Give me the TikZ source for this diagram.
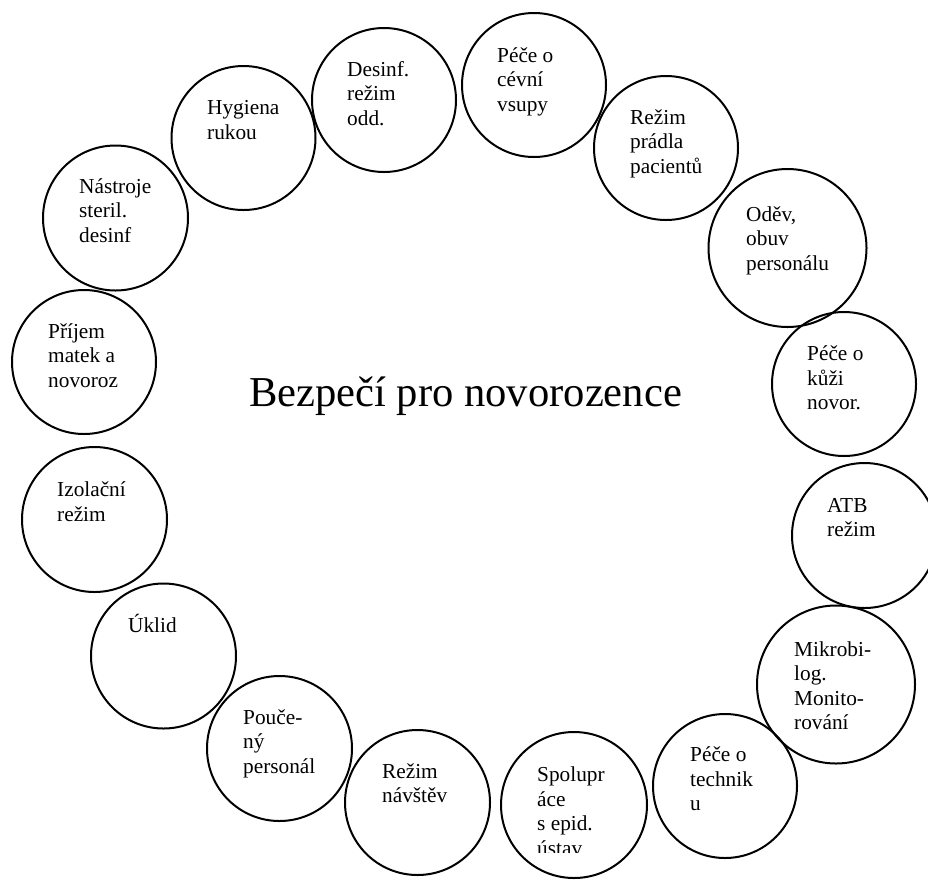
\documentclass[tikz,border=0pt]{standalone}
\usepackage{fontspec}
\setmainfont{Liberation Serif}
\begin{document}
\begin{tikzpicture}[x=1pt,y=-1pt,
  ring/.style={draw=black,line width=2pt,circle,inner sep=0pt,minimum size=#1},
  ring/.default=144pt,
  lbl/.style={anchor=base west,align=left,inner sep=0pt,font=\fontsize{21.3pt}{24.5pt}\selectfont},
  title/.style={anchor=base,inner sep=0pt,font=\fontsize{42.6pt}{48pt}\selectfont}]
\fill[white] (0,0) rectangle (928,879);
\useasboundingbox (0,0) rectangle (928,879);
% circles
\node[ring] (c1) at (384,100) {};
\node[ring] (c2) at (534,85) {};
\node[ring] (c3) at (666,148) {};
\node[ring=158pt] (c4) at (787.5,248) {};
\node[ring] (c5) at (844,384) {};
\node[ring=145pt] (c6) at (864.5,535.5) {};
\node[ring=158pt] (c7) at (836,684.5) {};
\node[ring] (c8) at (725,786) {};
\node[ring=146pt] (c9) at (574,805) {};
\node[ring=145pt] (c10) at (417.5,802.5) {};
\node[ring=145pt] (c11) at (279.5,748.5) {};
\node[ring=145pt] (c12) at (163.5,656) {};
\node[ring=145pt] (c13) at (94.5,519.5) {};
\node[ring] (c14) at (84,362) {};
\node[ring=145pt] (c15) at (115.5,218) {};
\node[ring] (c16) at (243.5,138) {};
% labels (anchored at the baseline of the last line)
\node[lbl] (t1) at (347,125) {Desinf.\\režim\\odd.};
\node[lbl] (t2) at (497,111) {Péče o\\cévní\\vsupy};
\node[lbl] (t3) at (630,173) {Režim\\prádla\\pacientů};
\node[lbl] (t4) at (746,270) {Oděv,\\obuv\\personálu};
\node[lbl] (t5) at (807,409.5) {Péče o\\kůži\\novor.};
\node[lbl] (t6) at (827,536.8) {ATB\\režim};
\node[lbl] (t7) at (794,729.5) {Mikrobi-\\log.\\Monito-\\rování};
\node[lbl] (t8) at (690,810.7) {Péče o\\technik\\u};
\begin{scope}
\clip (500,700) rectangle (660,852);
\node[lbl] (t9) at (537,855.2) {Spolupr\\áce\\s epid.\\ústav};
\end{scope}
\node[lbl] (t10) at (382,802.8) {Režim\\návštěv};
\node[lbl] (t11) at (243,773) {Pouče-\\ný\\personál};
\node[lbl] (t12) at (128,632.7) {Úklid};
\node[lbl] (t13) at (57,521.2) {Izolační\\režim};
\node[lbl] (t14) at (48,387.3) {Příjem\\matek a\\novoroz};
\node[lbl] (t15) at (79,242) {Nástroje\\steril.\\desinf};
\node[lbl] (t16) at (207,139) {Hygiena\\rukou};
% centre
\node[title] (ctr) at (465.5,406) {Bezpečí pro novorozence};
\end{tikzpicture}
\end{document}
